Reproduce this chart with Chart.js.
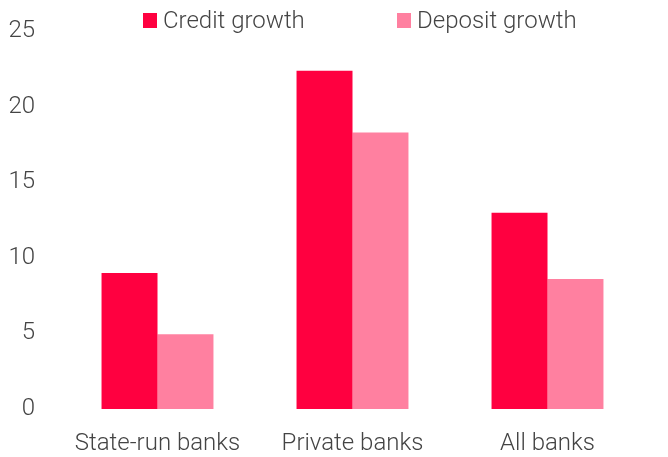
<!DOCTYPE html>
<html>
<head>
<meta charset="utf-8">
<script src="https://cdn.jsdelivr.net/npm/chart.js@4/dist/chart.umd.min.js"></script>
<style>
  html, body { margin: 0; padding: 0; background: #fff; }
  #wrap { position: relative; width: 668px; height: 457px; }
  #legend { position: absolute; top: 6px; left: 143px; display: flex; font-family: Roboto, sans-serif; font-weight: 300; font-size: 24px; line-height: 29px; color: #444; }
  .item { display: flex; align-items: center; width: 254px; }
  .box { width: 14px; height: 15px; margin-right: 6px; }
</style>
</head>
<body>
<div id="wrap">
  <canvas id="chart" width="668" height="457"></canvas>
  <div id="legend"></div>
</div>
<script>
const categories = ['State-run banks', 'Private banks', 'All banks'];
const creditGrowth = [9.0, 22.4, 13.0];
const depositGrowth = [4.95, 18.3, 8.6];
const seriesNames = ['Credit growth', 'Deposit growth'];
const seriesColors = ['#ff0040', '#ff80a0'];

const font = { family: 'Roboto, sans-serif', weight: '300', size: 24 };

const chart = new Chart(document.getElementById('chart'), {
  type: 'bar',
  data: {
    labels: categories,
    datasets: [
      { label: seriesNames[0], data: creditGrowth, backgroundColor: seriesColors[0] },
      { label: seriesNames[1], data: depositGrowth, backgroundColor: seriesColors[1] }
    ]
  },
  options: {
    responsive: false,
    animation: false,
    barPercentage: 1,
    categoryPercentage: 0.574,
    layout: { padding: { top: 5, left: 0, right: 23, bottom: 0 } },
    plugins: { legend: { display: false }, tooltip: { enabled: false } },
    scales: {
      x: {
        grid: { display: false },
        border: { display: false },
        ticks: { color: '#444', font: font, padding: 13 },
        afterFit: s => { s.height = 48; }
      },
      y: {
        min: 0,
        max: 25,
        grid: { display: false },
        border: { display: false },
        ticks: { stepSize: 5, color: '#444', font: font, padding: 17 },
        afterFit: s => { s.width = 60; }
      }
    }
  }
});

// legend as html, built from the datasets
const legend = document.getElementById('legend');
chart.data.datasets.forEach(ds => {
  const item = document.createElement('div');
  item.className = 'item';
  item.innerHTML = '<span class="box" style="background:' + ds.backgroundColor + '"></span>' + ds.label;
  legend.appendChild(item);
});
</script>
</body>
</html>
